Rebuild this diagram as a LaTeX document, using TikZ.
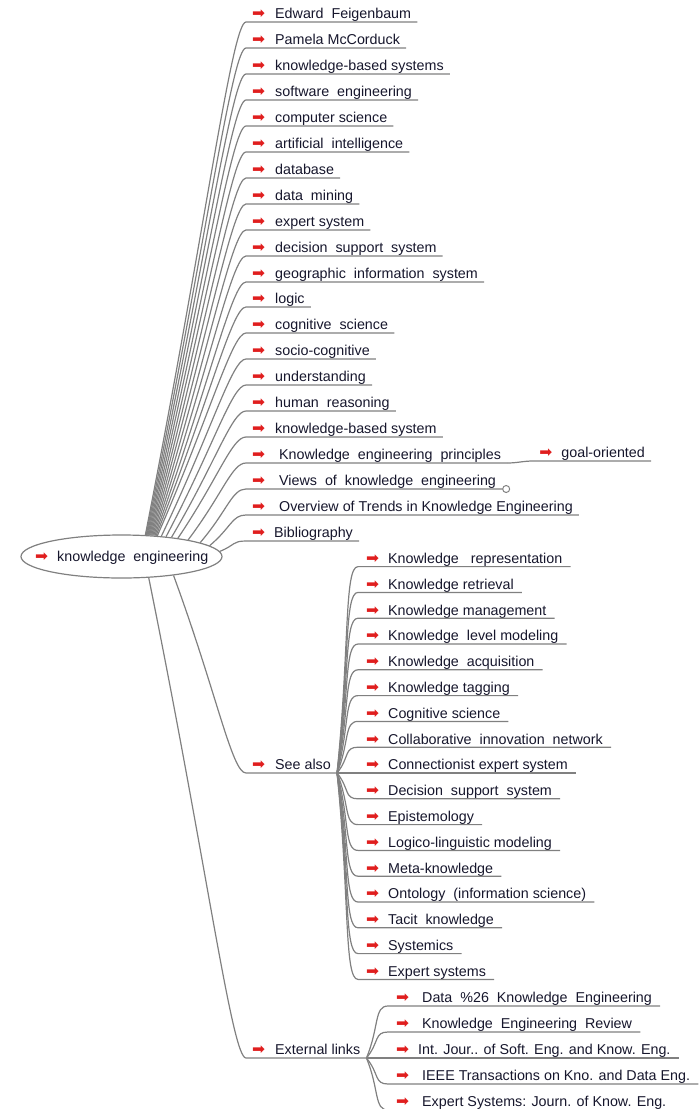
\documentclass[tikz,border=0pt]{standalone}
\usepackage{fontspec}
\setmainfont{Liberation Sans}
\newfontfamily\symfont{DejaVu Sans}
\usetikzlibrary{calc,shapes.geometric}
\definecolor{linegray}{RGB}{128,128,128}
\definecolor{arrowred}{RGB}{224,30,30}
\definecolor{inkdark}{RGB}{22,22,44}
% red bullet arrow in front of every topic, in a box of fixed width
\newcommand{\bulletarrow}{\makebox[13pt][l]{\symfont\fontsize{15.5}{15.5}\selectfont\color{arrowred}➡}}

\begin{document}
\begin{tikzpicture}[x=1pt,y=-1pt,
  font=\fontsize{14.3}{17}\selectfont,
  item/.style={anchor=south west, inner xsep=6pt, inner ysep=0pt,
               text height=10.5pt, text depth=3pt, text=inkdark},
  subitem/.style={item, inner xsep=8pt},
  link/.style={draw=linegray, line width=1.2pt},
  branch/.style={to path={.. controls ($(\tikztostart)!0.6!(\tikztotarget)$)
                 and ($(\tikztotarget)+(-14,0)$) .. (\tikztotarget)}},
]
\useasboundingbox (0,0) rectangle (700,1109);

% central topic
\node[ellipse, draw=linegray, line width=1.2pt, fill=white,
      minimum width=201pt, minimum height=43pt, inner sep=0pt] (root) at (121.5,556.5) {};
\node[text=inkdark, anchor=west, inner sep=0pt] (roottext) at (35,557.5)
  {\bulletarrow\hspace{9pt}knowledge\ \ engineering};

% first-level topics above the centre
\foreach \i/\uy/\gap/\txt in {
   1/22/10/{Edward\ \ Feigenbaum},
   2/48/10/{Pamela McCorduck},
   3/74/10/{knowledge-based systems},
   4/100/10/{software\ \ engineering},
   5/126/10/{computer science},
   6/152/10/{artificial\ \ intelligence},
   7/178/10/{database},
   8/204/10/{data\ \ mining},
   9/230/10/{expert system},
  10/256/10/{decision\ \ support\ \ system},
  11/282/10/{geographic\ \ information\ \ system},
  12/307/10/{logic},
  13/333/10/{cognitive\ \ science},
  14/359/10/{socio-cognitive},
  15/385/10/{understanding},
  16/411/10/{human\ \ reasoning},
  17/437/10/{knowledge-based system},
  18/463/14/{Knowledge\ \ engineering\ \ principles},
  19/489/14/{Views\ \ of\ \ knowledge\ \ engineering},
  20/515/14/{Overview of Trends in Knowledge Engineering},
  21/541/9/{Bibliography}}
{
  \node[item] (t\i) at (246,\uy) {\bulletarrow\hspace{\gap pt}\txt};
}
\foreach \i/\ang in {1/42,2/41,3/40,4/39,5/38,6/37,7/36,8/35,9/34,10/33,11/32,
                     12/31,13/30,14/27,15/24,16/21,17/18,18/14,20/7,21/3}
{
  \draw[link] (root.\ang) to[branch] (t\i.south west) -- (t\i.south east);
}

% collapsed marker after "Views of knowledge engineering"
\node[circle, draw=linegray, fill=white, line width=1pt, minimum size=7pt,
      inner sep=0pt, anchor=west] (fold) at (t19.south east) {};
\draw[link] (root.10) to[branch] (t19.south west) -- (fold);

% sub-topic of the principles
\node[item] (goal) at ($(t18.south east)+(26,-2)$)
  {\bulletarrow\hspace{9pt}goal-oriented};
\draw[link] (t18.south east) to[out=0,in=180] (goal.south west) -- (goal.south east);

% "See also" branch
\node[item] (seealso) at (246,773) {\bulletarrow\hspace{10pt}See also};
\draw[link] (root.-20) to[branch] (seealso.south west) -- (seealso.south east);

\foreach \j/\uy/\txt in {
   1/566.6/{Knowledge\ \ \ representation},
   2/592.4/{Knowledge retrieval},
   3/618.2/{Knowledge management},
   4/644.0/{Knowledge\ \ level modeling},
   5/669.8/{Knowledge\ \ acquisition},
   6/695.6/{Knowledge tagging},
   7/721.4/{Cognitive science},
   8/747.2/{Collaborative\ \ innovation\ \ network},
   9/773.0/{Connectionist expert system},
  10/798.8/{Decision\ \ support\ \ system},
  11/824.6/{Epistemology},
  12/850.4/{Logico-linguistic modeling},
  13/876.2/{Meta-knowledge},
  14/902.0/{Ontology\ \ (information science)},
  15/927.8/{Tacit\ \ knowledge},
  16/953.6/{Systemics},
  17/979.4/{Expert systems}}
{
  \node[subitem] (s\j) at (358,\uy) {\bulletarrow\hspace{9pt}\txt};
  \draw[link] (seealso.south east) to[branch] (s\j.south west) -- (s\j.south east);
}

% "External links" branch
\node[item] (extlinks) at (246,1058) {\bulletarrow\hspace{10pt}External links};
\draw[link] (root.-38) to[branch] (extlinks.south west) -- (extlinks.south east);

\foreach \k/\uy/\gap/\txt in {
  1/1006/13/{Data\ \ \%26\ \ Knowledge\ \ Engineering},
  2/1032/13/{Knowledge\ \ Engineering\ \ Review},
  3/1058/9/{Int. Jour.. of Soft. Eng. and Know. Eng.},
  4/1084/13/{IEEE Transactions on Kno. and Data Eng.},
  5/1110/13/{Expert Systems: Journ. of Know. Eng.}}
{
  \node[subitem] (e\k) at (388,\uy) {\bulletarrow\hspace{\gap pt}\txt};
  \draw[link] (extlinks.south east) to[branch] (e\k.south west) -- (e\k.south east);
}
\end{tikzpicture}
\end{document}
